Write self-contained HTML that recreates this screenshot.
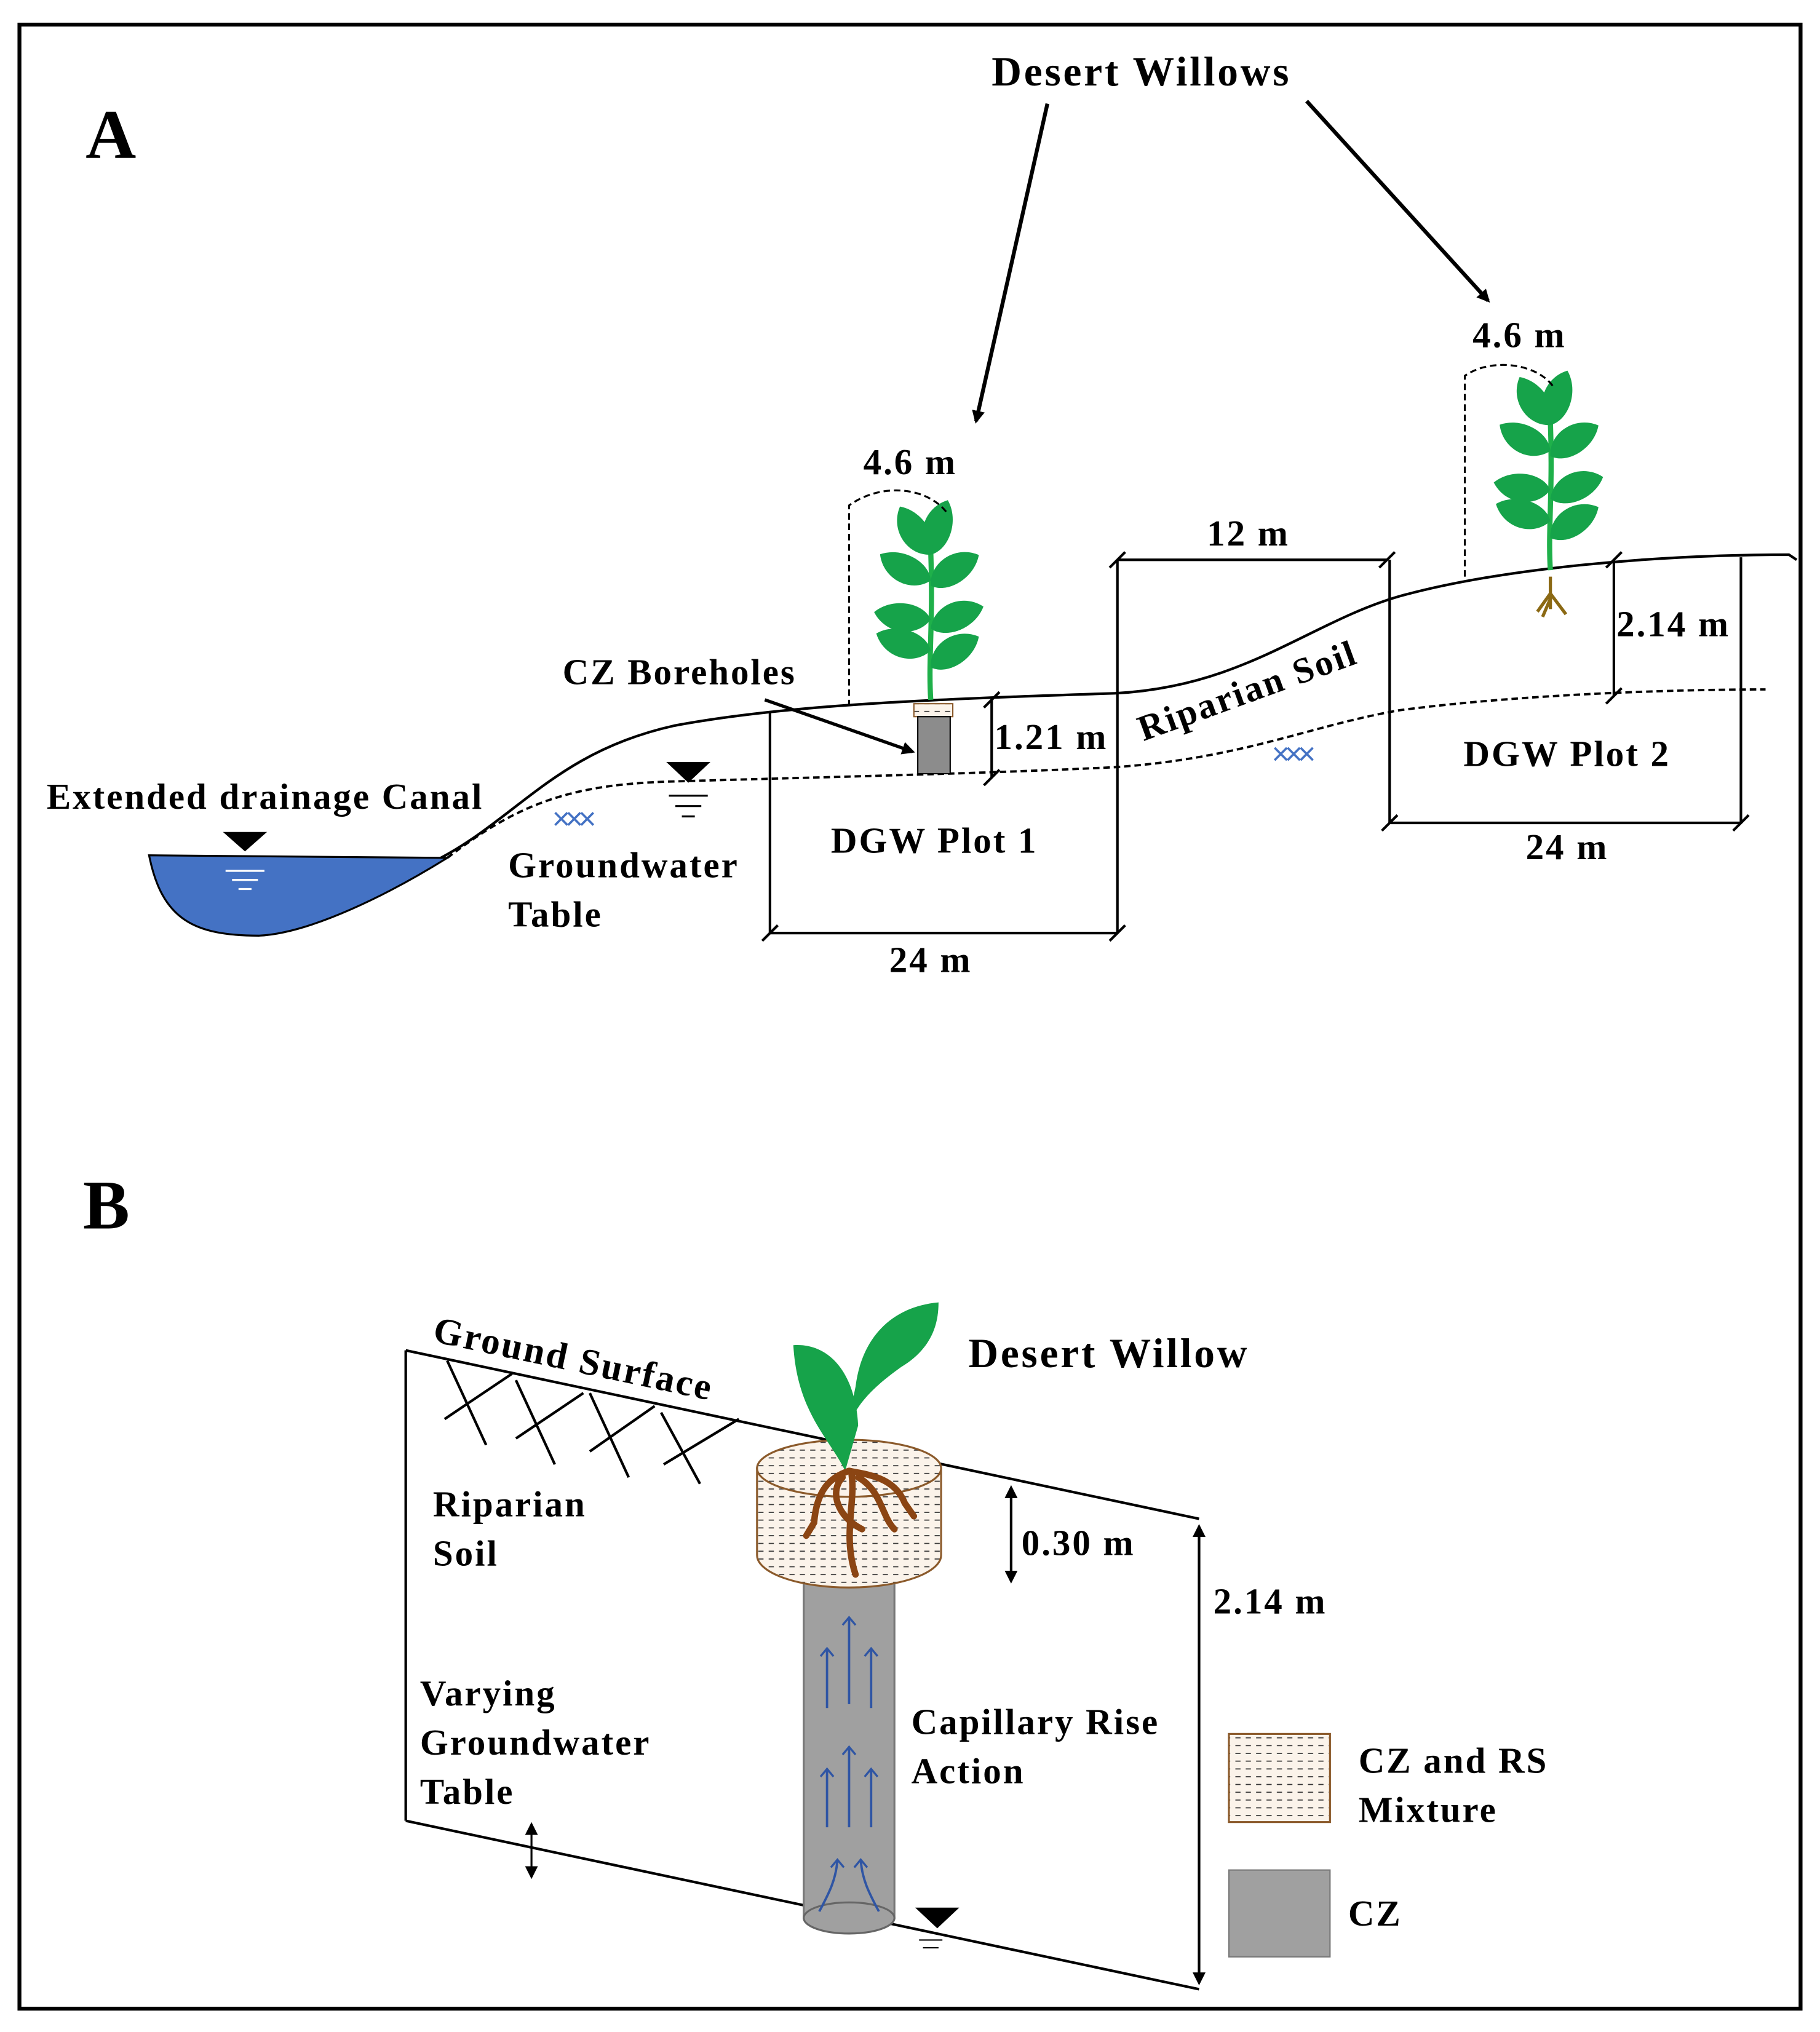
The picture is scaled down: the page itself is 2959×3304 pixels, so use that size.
<!DOCTYPE html>
<html><head><meta charset="utf-8"><style>
html,body{margin:0;padding:0;background:#fff}
svg{display:block}
text{font-family:"Liberation Serif",serif;font-weight:bold;fill:#000;letter-spacing:1.4px}
</style></head><body>
<svg width="2959" height="3304" viewBox="0 0 1404 1568" preserveAspectRatio="none" xmlns="http://www.w3.org/2000/svg">
<defs>
<pattern id="dash" width="8" height="6" patternUnits="userSpaceOnUse">
<rect width="8" height="6" fill="#fbf3ea"/><line x1="1" y1="3" x2="5" y2="3" stroke="#333" stroke-width="0.8"/>
</pattern>
<marker id="ah" markerWidth="10" markerHeight="10" refX="8" refY="5" orient="auto" markerUnits="userSpaceOnUse"><path d="M0,0 L10,5 L0,10 Z" fill="#000"/></marker>
<marker id="ab" markerWidth="10" markerHeight="10" refX="8" refY="5" orient="auto-start-reverse" markerUnits="userSpaceOnUse"><path d="M0,0 L10,5 L0,10 Z" fill="#000"/></marker>
<marker id="bl" markerWidth="12" markerHeight="12" refX="6" refY="2" orient="0" markerUnits="userSpaceOnUse"><path d="M1,8 L6,2 L11,8" fill="none" stroke="#2f55a4" stroke-width="1.6"/></marker>
<g id="leaf"><path d="M0,0 C8,-16 32,-18 44,-2 C32,12 8,12 0,0 Z" fill="#16a34a"/></g>
<g id="plant">
<path d="M0,0 C-2,-30 2,-60 0,-115" stroke="#1fb04a" stroke-width="4" fill="none"/>
<use href="#leaf" transform="translate(0,-25) rotate(-30)"/>
<use href="#leaf" transform="translate(0,-38) rotate(200)"/>
<use href="#leaf" transform="translate(0,-55) rotate(-20)"/>
<use href="#leaf" transform="translate(0,-62) rotate(190)"/>
<use href="#leaf" transform="translate(0,-88) rotate(-30)"/>
<use href="#leaf" transform="translate(0,-92) rotate(210)"/>
<use href="#leaf" transform="translate(0,-112) rotate(-70)"/>
<use href="#leaf" transform="translate(0,-112) rotate(240)"/>
</g>
</defs>
<rect x="15" y="19" width="1374" height="1531" fill="none" stroke="#000" stroke-width="3"/>
<text x="66" y="122" font-size="54">A</text>
<text x="64" y="948" font-size="54">B</text>
<text x="765" y="66" font-size="32" style="letter-spacing:1.8px">Desert Willows</text>
<line x1="808" y1="80" x2="753" y2="325" stroke="#000" stroke-width="3" marker-end="url(#ah)"/>
<line x1="1008" y1="78" x2="1148" y2="232" stroke="#000" stroke-width="3" marker-end="url(#ah)"/>
<path d="M115,660 L345,662 C300,690 240,720 200,722 C150,722 125,710 115,660 Z" fill="#4472c4" stroke="#000" stroke-width="1.5"/>
<path d="M172,642 L206,642 L189,657 Z" fill="#000"/>
<line x1="174" y1="672" x2="204" y2="672" stroke="#fff" stroke-width="1.5"/>
<line x1="179" y1="679" x2="199" y2="679" stroke="#fff" stroke-width="1.5"/>
<line x1="184" y1="686" x2="194" y2="686" stroke="#fff" stroke-width="1.5"/>
<text x="36" y="624" font-size="28">Extended drainage Canal</text>
<path d="M340,662 C400,630 430,580 520,560 C600,545 700,540 860,535 C960,530 1010,480 1080,460 C1160,438 1280,428 1380,428 L1386,432" fill="none" stroke="#000" stroke-width="2"/>
<path d="M345,662 C400,620 440,605 520,603 C620,600 760,597 860,592 C960,585 1010,560 1080,548 C1180,535 1300,532 1362,532" fill="none" stroke="#000" stroke-width="1.8" stroke-dasharray="5,3"/>
<path d="M514,588 L548,588 L531,604 Z" fill="#000"/>
<line x1="516" y1="614" x2="546" y2="614" stroke="#000" stroke-width="1.5"/>
<line x1="521" y1="622" x2="541" y2="622" stroke="#000" stroke-width="1.5"/>
<line x1="526" y1="630" x2="536" y2="630" stroke="#000" stroke-width="1.5"/>
<text x="426" y="640" font-size="24" style="fill:#4472c4;font-weight:normal;font-family:'Liberation Sans',sans-serif;letter-spacing:-4px">×××</text>
<text x="981" y="590" font-size="24" style="fill:#4472c4;font-weight:normal;font-family:'Liberation Sans',sans-serif;letter-spacing:-4px">×××</text>
<text x="392" y="677" font-size="28">Groundwater</text>
<text x="392" y="715" font-size="28">Table</text>
<g stroke="#000" stroke-width="2" fill="none">
<line x1="594" y1="550" x2="594" y2="720"/><line x1="862" y1="432" x2="862" y2="720"/>
<line x1="594" y1="720" x2="862" y2="720"/>
<line x1="588" y1="726" x2="600" y2="714"/><line x1="856" y1="726" x2="868" y2="714"/>
<line x1="862" y1="432" x2="1070" y2="432"/>
<line x1="856" y1="438" x2="868" y2="426"/><line x1="1064" y1="438" x2="1076" y2="426"/>
<line x1="1072" y1="432" x2="1072" y2="635"/><line x1="1343" y1="430" x2="1343" y2="635"/>
<line x1="1072" y1="635" x2="1343" y2="635"/>
<line x1="1066" y1="641" x2="1078" y2="629"/><line x1="1337" y1="641" x2="1349" y2="629"/>
<line x1="1245" y1="432" x2="1245" y2="537"/>
<line x1="1239" y1="438" x2="1251" y2="426"/><line x1="1239" y1="543" x2="1251" y2="531"/>
<line x1="765" y1="540" x2="765" y2="600"/>
<line x1="759" y1="546" x2="771" y2="534"/><line x1="759" y1="606" x2="771" y2="594"/>
</g>
<text x="641" y="658" font-size="28">DGW Plot 1</text>
<text x="686" y="750" font-size="28">24 m</text>
<text x="931" y="421" font-size="28">12 m</text>
<text x="1129" y="591" font-size="28">DGW Plot 2</text>
<text x="1177" y="663" font-size="28">24 m</text>
<text x="1247" y="491" font-size="28">2.14 m</text>
<text x="767" y="578" font-size="28">1.21 m</text>
<text x="882" y="572" font-size="28" transform="rotate(-20 882 572)">Riparian Soil</text>
<text x="434" y="528" font-size="28">CZ Boreholes</text>
<line x1="590" y1="540" x2="704" y2="580" stroke="#000" stroke-width="2.5" marker-end="url(#ah)"/>
<rect x="705" y="543" width="30" height="10" fill="url(#dash)" stroke="#8b5a2b" stroke-width="1"/>
<rect x="708" y="553" width="25" height="44" fill="#8c8c8c" stroke="#000" stroke-width="1"/>
<use href="#plant" transform="translate(718,540)"/>
<use href="#plant" transform="translate(1196,440)"/>
<path d="M1196,445 L1196,470 M1196,458 L1186,472 M1196,458 L1208,474 M1196,462 L1190,476" stroke="#8b6914" stroke-width="2.5" fill="none"/>
<path d="M655,545 L655,390 C680,372 715,376 730,395" fill="none" stroke="#000" stroke-width="1.5" stroke-dasharray="5,3"/>
<path d="M1130,445 L1130,290 C1150,276 1185,280 1198,298" fill="none" stroke="#000" stroke-width="1.5" stroke-dasharray="5,3"/>
<text x="666" y="366" font-size="28">4.6 m</text>
<text x="1136" y="268" font-size="28">4.6 m</text>
<g stroke="#000" stroke-width="2" fill="none">
<line x1="313" y1="1042" x2="313" y2="1405"/>
<line x1="313" y1="1042" x2="925" y2="1172"/>
<line x1="313" y1="1405" x2="925" y2="1535"/>
<line x1="925" y1="1178" x2="925" y2="1530" marker-start="url(#ab)" marker-end="url(#ab)"/>
<line x1="780" y1="1148" x2="780" y2="1220" marker-start="url(#ab)" marker-end="url(#ab)"/>
<line x1="410" y1="1408" x2="410" y2="1448" stroke-width="1.5" marker-start="url(#ab)" marker-end="url(#ab)"/>
<path d="M345,1050 L375,1115 M343,1095 L395,1060 M398,1065 L428,1130 M398,1110 L450,1075 M455,1075 L485,1140 M455,1120 L505,1085 M510,1090 L540,1145 M512,1130 L570,1095"/>
</g>
<text x="333" y="1035" font-size="29" transform="rotate(12 333 1035)">Ground Surface</text>
<text x="747" y="1055" font-size="32" style="letter-spacing:1.8px">Desert Willow</text>
<text x="334" y="1170" font-size="28">Riparian</text>
<text x="334" y="1208" font-size="28">Soil</text>
<text x="324" y="1316" font-size="28">Varying</text>
<text x="324" y="1354" font-size="28">Groundwater</text>
<text x="324" y="1392" font-size="28">Table</text>
<text x="788" y="1200" font-size="28">0.30 m</text>
<text x="936" y="1245" font-size="28">2.14 m</text>
<text x="703" y="1338" font-size="28">Capillary Rise</text>
<text x="703" y="1376" font-size="28">Action</text>
<rect x="620" y="1200" width="70" height="280" fill="#a0a0a0" stroke="#777" stroke-width="1.5"/>
<ellipse cx="655" cy="1480" rx="35" ry="12" fill="#a0a0a0" stroke="#666" stroke-width="1.5"/>
<path d="M584,1133 L584,1200 A71,25 0 0 0 726,1200 L726,1133 Z" fill="url(#dash)" stroke="#8b5a2b" stroke-width="1.5"/>
<ellipse cx="655" cy="1133" rx="71" ry="22" fill="url(#dash)" stroke="#8b5a2b" stroke-width="1.5"/>
<g stroke="#2f55a4" stroke-width="1.8" fill="none">
<line x1="655" y1="1315" x2="655" y2="1248" marker-end="url(#bl)"/>
<line x1="638" y1="1318" x2="638" y2="1272" marker-end="url(#bl)"/>
<line x1="672" y1="1318" x2="672" y2="1272" marker-end="url(#bl)"/>
<line x1="655" y1="1410" x2="655" y2="1348" marker-end="url(#bl)"/>
<line x1="638" y1="1410" x2="638" y2="1365" marker-end="url(#bl)"/>
<line x1="672" y1="1410" x2="672" y2="1365" marker-end="url(#bl)"/>
<path d="M632,1475 C640,1460 645,1450 646,1435" marker-end="url(#bl)"/>
<path d="M678,1475 C670,1460 665,1450 664,1435" marker-end="url(#bl)"/>
</g>
<path d="M706,1472 L740,1472 L723,1488 Z" fill="#000"/>
<line x1="709" y1="1497" x2="727" y2="1497" stroke="#000"/><line x1="712" y1="1503" x2="724" y2="1503" stroke="#000"/>
<path d="M652,1135 C648,1100 660,1080 695,1055 C720,1040 724,1020 724,1005 C690,1008 665,1030 660,1070 C656,1090 650,1110 652,1135 Z" fill="#16a34a"/>
<path d="M652,1135 C640,1110 615,1090 612,1038 C640,1036 660,1060 662,1100 Z" fill="#16a34a"/>
<g stroke="#8b4513" stroke-width="5" fill="none" stroke-linecap="round">
<path d="M655,1135 C640,1140 630,1150 628,1175 L622,1185"/>
<path d="M655,1135 C670,1138 690,1140 698,1160 L705,1170"/>
<path d="M657,1138 C660,1160 650,1185 660,1215"/>
<path d="M650,1140 C640,1150 645,1170 665,1180"/>
<path d="M662,1140 C680,1150 680,1170 690,1180"/>
</g>
<rect x="948" y="1338" width="78" height="68" fill="url(#dash)" stroke="#8b5a2b" stroke-width="1.5"/>
<rect x="948" y="1443" width="78" height="67" fill="#a0a0a0" stroke="#777" stroke-width="1"/>
<text x="1048" y="1368" font-size="28">CZ and RS</text>
<text x="1048" y="1406" font-size="28">Mixture</text>
<text x="1040" y="1486" font-size="28">CZ</text>
</svg>
</body></html>
